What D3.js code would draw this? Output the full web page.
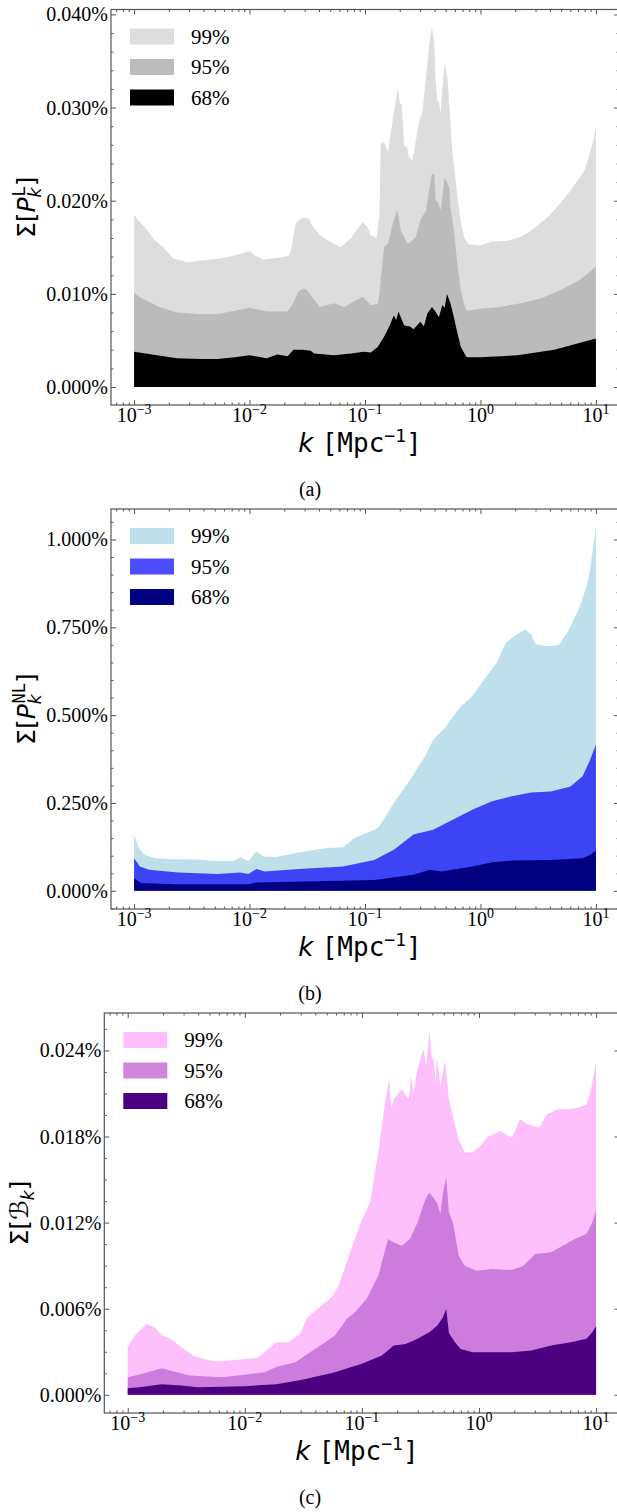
<!DOCTYPE html>
<html>
<head>
<meta charset="utf-8">
<title></title>
<style>
  body{ margin:0; padding:0; overflow:hidden; background:#fff; }
</style>
</head>
<body>
<div id="fig"></div>
<script src="https://cdnjs.cloudflare.com/ajax/libs/d3/7.8.5/d3.min.js"></script>
<script>
// ---- data: [log10 k, sigma in %] ----
const kMajor = [1e-3, 1e-2, 1e-1, 1, 10];
const kMajorExp = ["\u22123", "\u22122", "\u22121", "0", "1"];
const legendLabels = ["99%", "95%", "68%"];

// (a) linear power spectrum
const a99 = [[-3.00,0.0185],[-2.96,0.0178],[-2.91,0.0172],[-2.83,0.0159],[-2.74,0.0149],[-2.66,0.0138],[-2.54,0.0134],[-2.40,0.0136],[-2.25,0.0138],[-2.10,0.0142],
  [-2.00,0.0146],[-1.95,0.0141],[-1.88,0.0137],[-1.73,0.0139],[-1.66,0.0141],[-1.64,0.0147],[-1.60,0.0176],[-1.54,0.0182],[-1.49,0.0181],[-1.45,0.0172],
  [-1.39,0.0163],[-1.30,0.0156],[-1.21,0.0150],[-1.12,0.0160],[-1.05,0.0172],[-1.02,0.0177],[-0.98,0.0172],[-0.95,0.0163],[-0.90,0.0160],[-0.875,0.0185],
  [-0.864,0.0261],[-0.835,0.0263],[-0.80,0.0252],[-0.777,0.0272],[-0.748,0.0297],[-0.734,0.0307],[-0.714,0.0321],[-0.697,0.0304],[-0.682,0.0304],[-0.662,0.0259],
  [-0.633,0.0257],[-0.62,0.0247],[-0.59,0.0243],[-0.56,0.0264],[-0.53,0.0286],[-0.50,0.0297],[-0.49,0.0311],[-0.46,0.0347],[-0.44,0.0372],[-0.42,0.0386],
  [-0.40,0.0370],[-0.389,0.0329],[-0.374,0.0307],[-0.36,0.0307],[-0.345,0.0293],[-0.33,0.0321],[-0.31,0.0348],[-0.286,0.0332],[-0.267,0.0297],[-0.244,0.0254],
  [-0.215,0.0222],[-0.19,0.0195],[-0.17,0.0178],[-0.14,0.0160],[-0.10,0.0153],[0.00,0.0152],[0.09,0.0156],[0.23,0.0157],[0.35,0.0161],[0.46,0.0170],
  [0.58,0.0182],[0.69,0.0197],[0.78,0.0211],[0.90,0.0232],[0.98,0.0265],[1.00,0.0281]];
const a95 = [[-3.00,0.0101],[-2.93,0.0095],[-2.78,0.0086],[-2.63,0.0080],[-2.42,0.0078],[-2.28,0.0078],[-2.13,0.0082],[-2.00,0.0085],[-1.85,0.0081],[-1.67,0.0081],
  [-1.63,0.0088],[-1.58,0.0102],[-1.53,0.0106],[-1.50,0.0104],[-1.45,0.0095],[-1.39,0.0086],[-1.27,0.0090],[-1.18,0.0086],[-1.08,0.0093],[-1.02,0.0097],
  [-0.95,0.0088],[-0.89,0.0089],[-0.875,0.0100],[-0.864,0.0115],[-0.835,0.0150],[-0.80,0.0154],[-0.76,0.0175],[-0.72,0.0190],[-0.69,0.0168],[-0.662,0.0161],
  [-0.633,0.0154],[-0.61,0.0155],[-0.56,0.0161],[-0.52,0.0179],[-0.47,0.0190],[-0.45,0.0207],[-0.42,0.0229],[-0.40,0.0228],[-0.389,0.0200],[-0.374,0.0200],
  [-0.345,0.0190],[-0.31,0.0225],[-0.27,0.0214],[-0.26,0.0193],[-0.23,0.0168],[-0.20,0.0132],[-0.17,0.0104],[-0.14,0.0088],[-0.12,0.0082],[0.00,0.0084],
  [0.17,0.0086],[0.35,0.0090],[0.52,0.0095],[0.69,0.0104],[0.86,0.0115],[1.00,0.0129]];
const a68 = [[-3.00,0.0038],[-2.80,0.0034],[-2.63,0.0031],[-2.42,0.0030],[-2.28,0.0030],[-2.13,0.0032],[-2.00,0.0034],[-1.85,0.0031],[-1.76,0.0035],[-1.67,0.0033],
  [-1.62,0.0040],[-1.54,0.0040],[-1.47,0.0039],[-1.44,0.0036],[-1.27,0.0034],[-1.12,0.0036],[-1.01,0.0038],[-0.95,0.0037],[-0.89,0.0043],[-0.835,0.0054],
  [-0.79,0.0065],[-0.75,0.0077],[-0.73,0.0072],[-0.71,0.0081],[-0.69,0.0075],[-0.66,0.0066],[-0.61,0.0065],[-0.58,0.0062],[-0.55,0.0066],[-0.52,0.0070],
  [-0.49,0.0065],[-0.46,0.0079],[-0.42,0.0086],[-0.39,0.0081],[-0.36,0.0075],[-0.33,0.0088],[-0.31,0.0085],[-0.29,0.0100],[-0.26,0.0090],[-0.23,0.0075],
  [-0.20,0.0058],[-0.17,0.0043],[-0.12,0.0032],[0.00,0.0032],[0.32,0.0034],[0.64,0.0040],[1.00,0.0052]];
const aYTicks = [0, 0.01, 0.02, 0.03, 0.04];
const aYLabels = ["0.000%", "0.010%", "0.020%", "0.030%", "0.040%"];

// (b) non-linear power spectrum
const b99 = [[-3.00,0.160],[-2.96,0.122],[-2.91,0.103],[-2.82,0.093],[-2.65,0.090],[-2.45,0.089],[-2.28,0.084],[-2.14,0.084],[-2.08,0.095],[-2.01,0.085],
  [-1.94,0.112],[-1.88,0.098],[-1.77,0.096],[-1.53,0.112],[-1.33,0.122],[-1.19,0.124],[-1.09,0.150],[-0.99,0.164],[-0.885,0.179],[-0.75,0.250],
  [-0.61,0.316],[-0.48,0.383],[-0.41,0.430],[-0.31,0.463],[-0.17,0.525],[-0.07,0.554],[0.03,0.601],[0.14,0.649],[0.22,0.706],[0.31,0.729],
  [0.39,0.744],[0.44,0.729],[0.48,0.701],[0.58,0.696],[0.68,0.700],[0.75,0.734],[0.85,0.800],[0.92,0.867],[0.95,0.915],[1.00,1.035]];
const b95 = [[-3.00,0.093],[-2.95,0.069],[-2.87,0.060],[-2.62,0.052],[-2.28,0.048],[-2.08,0.052],[-2.01,0.048],[-1.94,0.062],[-1.87,0.055],[-1.57,0.062],
  [-1.19,0.069],[-0.92,0.088],[-0.75,0.117],[-0.58,0.160],[-0.41,0.174],[-0.24,0.202],[-0.07,0.231],[0.10,0.255],[0.27,0.269],[0.44,0.280],
  [0.61,0.283],[0.78,0.297],[0.885,0.326],[0.95,0.373],[1.00,0.416]];
const b68 = [[-3.00,0.036],[-2.94,0.022],[-2.65,0.019],[-2.00,0.019],[-1.94,0.024],[-1.43,0.027],[-0.92,0.031],[-0.58,0.046],[-0.44,0.060],[-0.34,0.055],
  [-0.07,0.069],[0.10,0.081],[0.27,0.086],[0.61,0.088],[0.885,0.093],[0.95,0.103],[1.00,0.114]];
const bYTicks = [0, 0.25, 0.5, 0.75, 1.0];
const bYLabels = ["0.000%", "0.250%", "0.500%", "0.750%", "1.000%"];

// (c) bispectrum
const c99 = [[-3.00,0.00332],[-2.94,0.00413],[-2.84,0.00494],[-2.77,0.00471],[-2.71,0.00413],[-2.64,0.00394],[-2.54,0.00332],[-2.44,0.00273],[-2.30,0.00239],[-2.20,0.00232],
  [-2.00,0.00250],[-1.90,0.00255],[-1.83,0.00297],[-1.73,0.00367],[-1.63,0.00367],[-1.53,0.00424],[-1.465,0.00540],[-1.36,0.00610],[-1.26,0.00680],[-1.20,0.00760],
  [-1.13,0.00923],[-1.06,0.01085],[-1.01,0.01200],[-0.93,0.01340],[-0.86,0.01688],[-0.81,0.01990],[-0.767,0.02210],[-0.75,0.02000],[-0.727,0.02060],[-0.66,0.02130],
  [-0.60,0.02060],[-0.58,0.02220],[-0.56,0.02100],[-0.525,0.02270],[-0.475,0.02410],[-0.45,0.02300],[-0.424,0.02534],[-0.40,0.02330],[-0.39,0.02360],[-0.37,0.02180],
  [-0.358,0.02350],[-0.33,0.02150],[-0.29,0.02326],[-0.257,0.02060],[-0.223,0.01943],[-0.173,0.01780],[-0.122,0.01688],
  [-0.055,0.01688],[0.011,0.01734],[0.08,0.01800],[0.18,0.01839],[0.28,0.01792],[0.35,0.01920],[0.415,0.01885],[0.516,0.01862],[0.58,0.01955],[0.68,0.01990],
  [0.78,0.01990],[0.85,0.02000],[0.92,0.02024],[0.95,0.02106],[1.00,0.02314]];
const c95 = [[-3.00,0.00123],[-2.875,0.00146],[-2.71,0.00186],[-2.64,0.00169],[-2.47,0.00134],[-2.20,0.00123],[-2.00,0.00139],[-1.83,0.00158],[-1.73,0.00193],[-1.57,0.00227],
  [-1.40,0.00320],[-1.23,0.00413],[-1.13,0.00529],[-1.06,0.00575],[-0.96,0.00668],[-0.86,0.00830],[-0.777,0.01085],[-0.727,0.01062],[-0.66,0.01039],[-0.59,0.01085],
  [-0.525,0.01200],[-0.458,0.01363],[-0.424,0.01410],[-0.358,0.01340],[-0.33,0.01260],[-0.307,0.01410],[-0.28,0.01514],[-0.257,0.01270],[-0.223,0.01200],[-0.173,0.00969],[-0.122,0.00900],
  [-0.022,0.00865],[0.113,0.00877],[0.28,0.00870],[0.38,0.00900],[0.48,0.00981],[0.616,0.00993],[0.716,0.01039],[0.817,0.01085],[0.918,0.01120],[0.968,0.01200],
  [1.00,0.01282]];
const c68 = [[-3.00,0.00046],[-2.90,0.00053],[-2.71,0.00074],[-2.54,0.00065],[-2.405,0.00053],[-2.00,0.00060],[-1.73,0.00074],[-1.50,0.00107],[-1.23,0.00158],[-1.00,0.00216],
  [-0.83,0.00274],[-0.727,0.00343],[-0.626,0.00355],[-0.525,0.00390],[-0.424,0.00436],[-0.358,0.00482],[-0.307,0.00540],[-0.28,0.00598],[-0.257,0.00430],[-0.206,0.00367],
  [-0.156,0.00320],[-0.055,0.00297],[0.113,0.00297],[0.28,0.00297],[0.448,0.00308],[0.616,0.00343],[0.783,0.00367],[0.918,0.00390],[0.968,0.00436],[1.00,0.00478]];
const cYTicks = [0, 0.006, 0.012, 0.018, 0.024];
const cYLabels = ["0.000%", "0.006%", "0.012%", "0.018%", "0.024%"];

// ---- styling / layout ----
var W = 617, H = 1512;
var serif = "Liberation Serif, DejaVu Serif, Times New Roman, serif";
var sans = "DejaVu Sans, sans-serif";
var mono = "DejaVu Sans Mono, monospace";
var axisCol = "#555";

var panels = [
  { tag: "(a)", series: [a99, a95, a68], yTicks: aYTicks, yLabels: aYLabels, minorStep: 0.002,
    left: 111, right: 619, top: 9.5, bottom: 405, sup: "L",
    fill: ["#dddddd", "#bbbbbb", "#000000"], legend: ["#dddddd", "#bcbcbc", "#000000"] },
  { tag: "(b)", series: [b99, b95, b68], yTicks: bYTicks, yLabels: bYLabels, minorStep: 0.05,
    left: 111, right: 619, top: 509, bottom: 909, sup: "NL",
    fill: ["#bde0ea", "#3c45f6", "#000080"], legend: ["#bde0ea", "#4d4dff", "#000080"] },
  { tag: "(c)", series: [c99, c95, c68], yTicks: cYTicks, yLabels: cYLabels, minorStep: 0.0015,
    left: 104.3, right: 619.5, top: 1013, bottom: 1413, sup: null,
    fill: ["#fdc0fd", "#cd7bdd", "#4b0082"], legend: ["#fdc0fd", "#cf86dd", "#4b0082"] }
];

var svg = d3.select('#fig').append('svg')
    .attr('width', W).attr('height', H)
    .style('background', '#fff');

// log minor ticks 2..9 per decade
var kMinor = [];
for (var e = -4; e <= 1; e++) for (var m = 2; m <= 9; m++) kMinor.push(m * Math.pow(10, e));

function ticksAxis(g, axis) {
    g.call(axis);
    g.select('.domain').remove();
    g.selectAll('.tick line').attr('stroke', axisCol).attr('stroke-width', 1);
    g.selectAll('.tick text').remove();
}

panels.forEach(function(p) {
    var x = d3.scaleLog().domain([Math.pow(10, -3.2), Math.pow(10, 1.2)]).range([p.left, p.right]);
    var vmax = d3.max(p.series[0], function(d){ return d[1]; });
    var pad = vmax * 0.05;
    var y = d3.scaleLinear().domain([-pad, vmax + pad]).range([p.bottom, p.top]);

    var g = svg.append('g');

    var area = d3.area()
        .x(function(d){ return x(Math.pow(10, d[0])); })
        .y0(y(0))
        .y1(function(d){ return y(d[1]); });

    p.series.forEach(function(s, i) {
        g.append('path').datum(s).attr('d', area).attr('fill', p.fill[i]);
    });

    // ticks, all pointing in
    var xMin = kMinor.filter(function(k){ return k > x.domain()[0] && k < x.domain()[1]; });
    var yMin = d3.range(Math.ceil(-pad / p.minorStep), Math.floor((vmax + pad) / p.minorStep) + 1)
        .map(function(i){ return i * p.minorStep; })
        .filter(function(v){ return !p.yTicks.some(function(t){ return Math.abs(t - v) < p.minorStep / 10; }); });

    [[d3.axisBottom, p.bottom], [d3.axisTop, p.top]].forEach(function(a) {
        g.append('g').attr('transform', 'translate(0,' + a[1] + ')')
            .call(ticksAxis, a[0](x).tickValues(kMajor).tickSize(-5).tickFormat(''));
        g.append('g').attr('transform', 'translate(0,' + a[1] + ')')
            .call(ticksAxis, a[0](x).tickValues(xMin).tickSize(-2.5).tickFormat(''));
    });
    [[d3.axisLeft, p.left], [d3.axisRight, p.right]].forEach(function(a) {
        g.append('g').attr('transform', 'translate(' + a[1] + ',0)')
            .call(ticksAxis, a[0](y).tickValues(p.yTicks).tickSize(-5).tickFormat(''));
        g.append('g').attr('transform', 'translate(' + a[1] + ',0)')
            .call(ticksAxis, a[0](y).tickValues(yMin).tickSize(-2.5).tickFormat(''));
    });

    // frame
    g.append('rect')
        .attr('x', p.left).attr('y', p.top)
        .attr('width', p.right - p.left).attr('height', p.bottom - p.top)
        .attr('fill', 'none').attr('stroke', axisCol).attr('stroke-width', 1.2);

    // x tick labels 10^n
    kMajor.forEach(function(k, i) {
        var t = g.append('text')
            .attr('x', x(k)).attr('y', p.bottom + 17)
            .attr('text-anchor', 'middle')
            .attr('font-family', serif).attr('font-size', 20);
        t.append('tspan').text('10');
        t.append('tspan').attr('dy', -8).attr('font-size', 14).text(kMajorExp[i]);
    });

    // y tick labels
    p.yTicks.forEach(function(v, i) {
        g.append('text')
            .attr('x', p.left - 3).attr('y', y(v)).attr('dy', '0.35em')
            .attr('text-anchor', 'end')
            .attr('font-family', serif).attr('font-size', 20)
            .text(p.yLabels[i]);
    });

    // legend
    legendLabels.forEach(function(lab, i) {
        var ly = p.top + 19 + i * 30.5;
        g.append('rect')
            .attr('x', p.left + 19).attr('y', ly)
            .attr('width', 44).attr('height', 16)
            .attr('fill', p.legend[i]);
        g.append('text')
            .attr('x', p.left + 80).attr('y', ly + 15)
            .attr('font-family', serif).attr('font-size', 21)
            .text(lab);
    });

    // x label  k [Mpc^-1]
    var xl = g.append('text')
        .attr('x', (p.left + p.right) / 2 - 5).attr('y', p.bottom + 47)
        .attr('text-anchor', 'middle')
        .attr('font-size', 26);
    xl.append('tspan').attr('font-family', sans).attr('font-style', 'italic').text('k ');
    xl.append('tspan').attr('font-family', mono).text('[Mpc');
    xl.append('tspan').attr('font-family', mono).attr('font-size', 18).attr('dy', -10).text('\u22121');
    xl.append('tspan').attr('font-family', mono).attr('dy', 10).text(']');

    // y label  Sigma[...]
    var yl = g.append('text')
        .attr('transform', 'translate(' + (p.left - 76) + ',' + ((p.top + p.bottom) / 2) + ') rotate(-90)')
        .attr('text-anchor', 'middle')
        .attr('font-family', sans).attr('font-size', 25);
    yl.append('tspan').text('\u03A3[');
    if (p.sup) {
        yl.append('tspan').attr('font-style', 'italic').text('P');
        yl.append('tspan').attr('font-style', 'italic').attr('font-size', 17).attr('dy', 6).text('k');
        yl.append('tspan').attr('font-family', mono).attr('font-size', 17)
            .attr('dx', -9).attr('dy', -16).text(p.sup);
        yl.append('tspan').attr('dy', 10).text(']');
    } else {
        yl.append('tspan').attr('font-style', 'italic').text('\u212C');
        yl.append('tspan').attr('font-style', 'italic').attr('font-size', 17).attr('dy', 6).text('k');
        yl.append('tspan').attr('dy', -6).text(']');
    }

    // panel tag
    svg.append('text')
        .attr('x', 310).attr('y', p.bottom + 91)
        .attr('text-anchor', 'middle')
        .attr('font-family', serif).attr('font-size', 20)
        .text(p.tag);
});
</script>
</body>
</html>
